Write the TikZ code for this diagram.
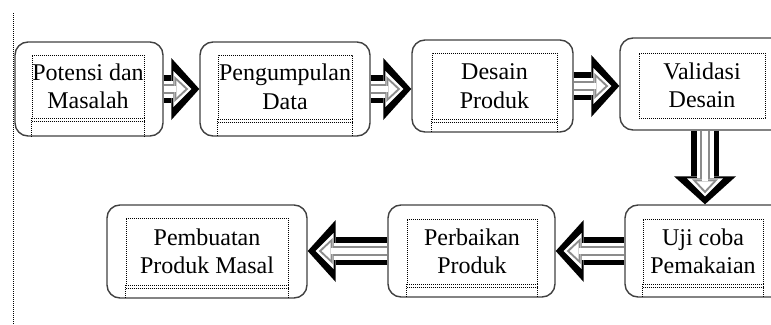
\documentclass[tikz,border=0pt]{standalone}
\usepackage{fontspec}
\setmainfont{Liberation Serif}
\usetikzlibrary{arrows.meta,calc}

\begin{document}
\begin{tikzpicture}[
  x=1pt, y=-1pt,
  dots/.style={line width=0.9pt, dash pattern=on 0.9pt off 1.1pt},
  stage/.style={draw=black!75, line width=1.4pt, rounded corners=13pt, minimum height=92pt},
  txt/.style={draw, dots, align=center, inner sep=0pt, minimum height=65pt,
              font=\fontsize{24}{28.5}\selectfont},
  barrow/.style={line width=28pt, -{Triangle[length=28pt,width=62pt,line width=0pt]},
    postaction={draw=white, line width=17pt, shorten >=8pt,
                -{Triangle[length=18pt,width=36pt,line width=0pt]}},
    postaction={draw=black!45, line width=10pt, shorten >=11pt,
                -{Triangle[length=14pt,width=26pt,line width=0pt]}},
    postaction={draw=white, line width=6pt, shorten >=14pt,
                -{Triangle[length=9pt,width=17pt,line width=0pt]}}},
]
\useasboundingbox (0,0) rectangle (771,324);
\clip (0,0) rectangle (771,324);

% margin line
\draw[dots] (13,13) -- (13,324);

% top row
\node[stage, minimum width=148pt, minimum height=94pt] (st1) at (89,89) {};
\node[txt, minimum width=112pt, minimum height=63pt] (tx1) at (88,86.5) {Potensi dan\\Masalah};
\node[stage, minimum width=170pt, minimum height=94pt] (st2) at (285,89) {};
\node[txt, minimum width=134pt, minimum height=64pt] (tx2) at (285,87) {Pengumpulan\\Data};
\node[stage, minimum width=161pt] (st3) at (492.5,86) {};
\node[txt, minimum width=125pt, minimum height=66pt] (tx3) at (494.5,86) {Desain\\Produk};
\node[stage, minimum width=170pt] (st4) at (705,84) {};
\node[txt, minimum width=126pt] (tx4) at (702,85.5) {Validasi\\Desain};

% bottom row
\node[stage, minimum width=160pt] (st5) at (705,251) {};
\node[txt, minimum width=120pt] (tx5) at (703,251.5) {Uji coba\\Pemakaian};
\node[stage, minimum width=167pt] (st6) at (471.5,251) {};
\node[txt, minimum width=130pt] (tx6) at (472,251.5) {Perbaikan\\Produk};
\node[stage, minimum width=200pt, minimum height=93pt] (st7) at (207,251.5) {};
\node[txt, minimum width=162pt, minimum height=67pt] (tx7) at (207,251.5) {Pembuatan\\Produk Masal};

% dotted frames running down to the box edge
\foreach \i in {1,2,3,5,6,7} {
  \draw[dots] (tx\i.south west) -- (tx\i.south west |- st\i.south);
  \draw[dots] (tx\i.south east) -- (tx\i.south east |- st\i.south);
  \draw[dots] ([yshift=-2.5pt]tx\i.south west) -- ([yshift=-2.5pt]tx\i.south east);
}

% block arrows
\draw[barrow] (st1.east) -- (st1.east -| st2.west);
\draw[barrow] (st2.east) -- (st2.east -| st3.west);
\draw[barrow] (st3.east) -- (st3.east -| st4.west);
\draw[barrow] (st4.south) -- (st5.north);
\draw[barrow] (st5.west) -- (st5.west -| st6.east);
\draw[barrow] (st6.west) -- (st6.west -| st7.east);
\end{tikzpicture}
\end{document}
